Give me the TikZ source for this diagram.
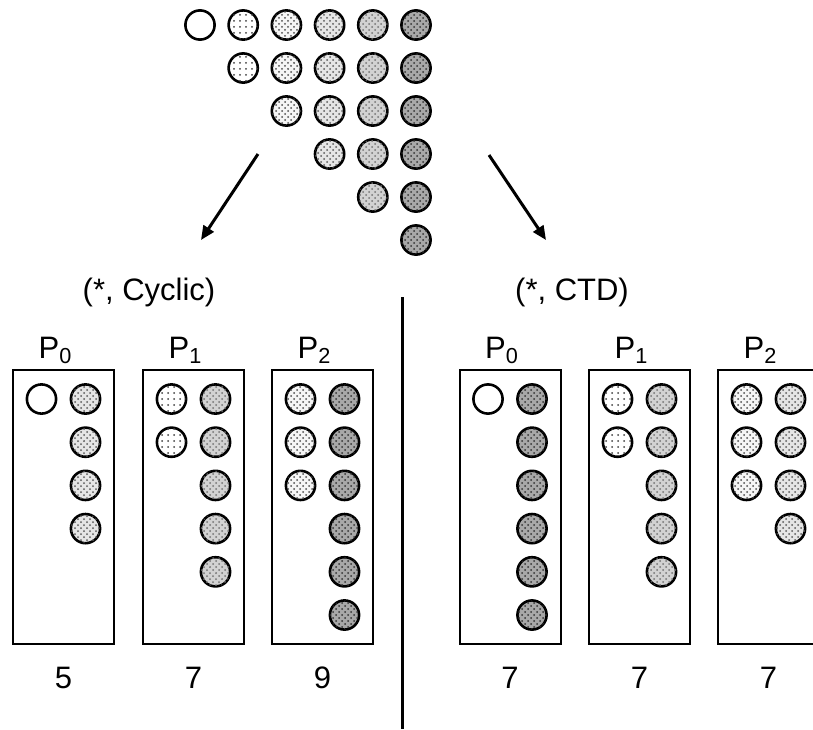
\documentclass[tikz,border=0pt]{standalone}
\usepackage{fontspec}
\setmainfont{Liberation Sans}
\usetikzlibrary{arrows.meta,patterns}
\tikzset{
  ball/.style={circle, draw, line width=1.3pt, minimum size=14.6pt, inner sep=0pt},
  lvl0/.style={fill=white},
  lvl1/.style={fill=white, postaction={pattern=dots, pattern color=black!75}},
  lvl2/.style={fill=gray!8, postaction={pattern=crosshatch dots, pattern color=black!70}},
  lvl3/.style={fill=gray!20, postaction={pattern=crosshatch dots, pattern color=black!65}},
  lvl4/.style={fill=gray!35, postaction={pattern=crosshatch dots, pattern color=black!55}},
  lvl5/.style={fill=gray!68, postaction={pattern=crosshatch dots, pattern color=black!80}},
  procbox/.style={draw, line width=1pt, minimum width=50.5pt, minimum height=137pt, inner sep=0pt},
  txt/.style={font=\fontsize{15.5}{18}\selectfont, inner sep=0pt},
  split/.style={-{Triangle[length=7pt, width=6pt]}, line width=1.5pt},
}

\begin{document}
\begin{tikzpicture}[x=0.5pt, y=-0.5pt]
  \useasboundingbox (0,0) rectangle (813,729);

  % Triangular matrix, column j holds j+1 elements
  \foreach \j in {0,...,5} {
    \foreach \r in {0,...,\j} {
      \node[ball, lvl\j] (m\r\j) at ({200+43.2*\j}, {25+43*\r}) {};
    }
  }

  % Arrows to the two distributions
  \coordinate (cycfrom) at (258,154);
  \coordinate (cycto) at (201,240);
  \coordinate (ctdfrom) at (489,155);
  \coordinate (ctdto) at (546,240);
  \draw[split] (cycfrom) -- (cycto);
  \draw[split] (ctdfrom) -- (ctdto);

  \node[txt] (cyclic) at (149,292) {(*, Cyclic)};
  \node[txt] (ctd) at (572,292) {(*, CTD)};

  % Separator
  \coordinate (septop) at (402,297);
  \coordinate (sepbot) at (402,729);
  \draw[line width=1.5pt] (septop) -- (sepbot);

  % Processor boxes: name/x/proc/n left/shade left/n right/shade right/count
  \foreach \nm/\cx/\p/\na/\sa/\nb/\sb/\cnt in {
      cycA/63.5/0/1/0/4/3/5, cycB/193.5/1/2/1/5/4/7, cycC/322.5/2/3/2/6/5/9,
      ctdA/510/0/1/0/6/5/7, ctdB/639.5/1/2/1/5/4/7, ctdC/768.5/2/3/2/4/3/7} {
    \node[procbox] (\nm) at (\cx,507) {};
    \node[txt, anchor=base] (\nm-lab) at ({\cx-8},358) {P\textsubscript{\p}};
    \node[txt, anchor=base] (\nm-cnt) at (\cx,688) {\cnt};
    \foreach \k in {1,...,\na}
      \node[ball, lvl\sa] (\nm-a\k) at ({\cx-22}, {399+43.2*(\k-1)}) {};
    \foreach \k in {1,...,\nb}
      \node[ball, lvl\sb] (\nm-b\k) at ({\cx+22}, {399+43.2*(\k-1)}) {};
  }
\end{tikzpicture}
\end{document}
